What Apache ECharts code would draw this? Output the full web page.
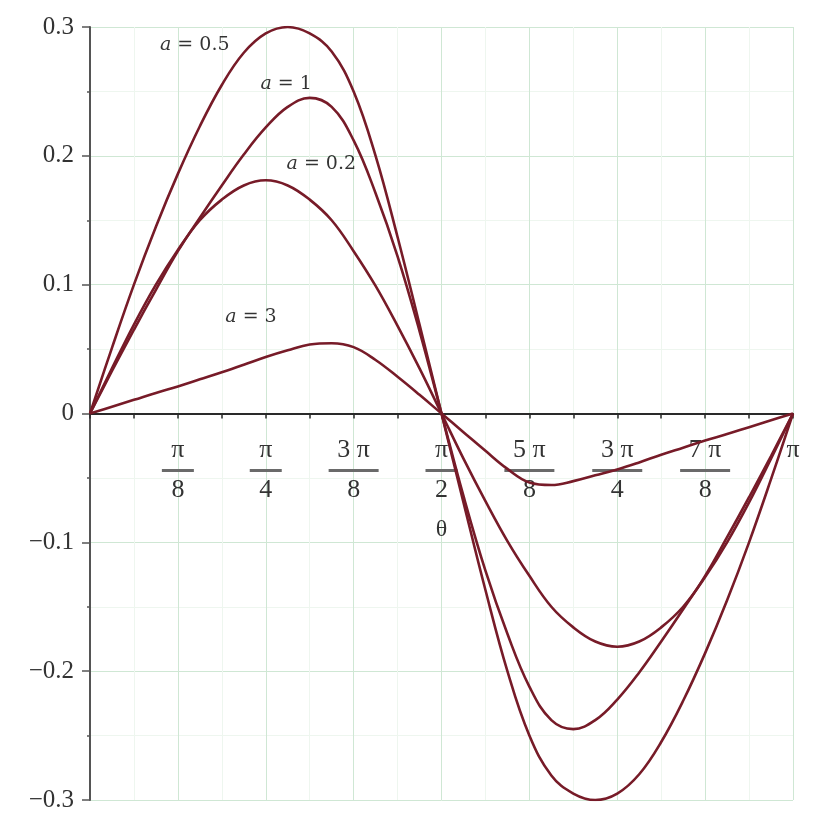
<!DOCTYPE html>
<html><head><meta charset="utf-8">
<script src="https://cdn.jsdelivr.net/npm/echarts@6/dist/echarts.min.js"></script>
<style>html,body{margin:0;padding:0;background:#fff}#c{width:828px;height:831px}</style>
</head><body><div id="c"></div>
<script>
// theta expressed in units of pi
const thetaOverPi = [0, 0.03125, 0.0625, 0.09375, 0.125, 0.15625, 0.1875, 0.21875, 0.25,
  0.28125, 0.3125, 0.34375, 0.375, 0.40625, 0.4375, 0.46875, 0.5,
  0.53125, 0.5625, 0.59375, 0.625, 0.65625, 0.6875, 0.71875, 0.75,
  0.78125, 0.8125, 0.84375, 0.875, 0.90625, 0.9375, 0.96875, 1];
const a05 = [0, 0.051, 0.1, 0.145, 0.186, 0.223, 0.255, 0.28, 0.295,
  0.3, 0.295, 0.281, 0.25, 0.2, 0.137, 0.069, 0,
  -0.069, -0.137, -0.2, -0.25, -0.281, -0.295, -0.3, -0.295,
  -0.28, -0.255, -0.223, -0.186, -0.145, -0.1, -0.051, 0];
const a1 = [0, 0.033, 0.065, 0.096, 0.126, 0.152, 0.177, 0.201, 0.222,
  0.238, 0.245, 0.238, 0.212, 0.171, 0.122, 0.064, 0,
  -0.064, -0.122, -0.171, -0.212, -0.238, -0.245, -0.238, -0.222,
  -0.201, -0.177, -0.152, -0.126, -0.096, -0.065, -0.033, 0];
const a02 = [0, 0.035, 0.069, 0.1, 0.127, 0.15, 0.166, 0.177, 0.181,
  0.177, 0.166, 0.15, 0.126, 0.099, 0.068, 0.035, 0,
  -0.035, -0.068, -0.099, -0.126, -0.15, -0.166, -0.177, -0.181,
  -0.177, -0.166, -0.15, -0.127, -0.1, -0.069, -0.035, 0];
const a3 = [0, 0.0053, 0.0106, 0.016, 0.021, 0.0265, 0.032, 0.0378, 0.0438,
  0.049, 0.0535, 0.0545, 0.0515, 0.0415, 0.0285, 0.0145, 0,
  -0.0145, -0.029, -0.043, -0.0535, -0.0555, -0.0525, -0.048, -0.0435,
  -0.038, -0.032, -0.0265, -0.021, -0.016, -0.0106, -0.0053, 0];
const curveValues = [a05, a1, a02, a3];
const curveNames = ['0.5', '1', '0.2', '3'];
// x tick labels (numerator, denominator) at multiples of pi/8
const xNumerators = ['', 'π', 'π', '3 π', 'π', '5 π', '3 π', '7 π', 'π'];
const xDenominators = ['', '8', '4', '8', '2', '8', '4', '8', ''];
// annotation anchors (theta/pi, value)
const annX = [0.149, 0.279, 0.329, 0.229];
const annY = [0.286, 0.256, 0.194, 0.075];

const W = 828, H = 831;
const gridTop = 27, gridBottom = 31;
const gridHeight = H - gridTop - gridBottom;

const chart = echarts.init(document.getElementById('c'), null, {renderer: 'canvas'});
const lineColor = '#771b28';
const serif = 'Liberation Serif';

const series = curveValues.map((vals, i) => ({
  type: 'line',
  name: 'a = ' + curveNames[i],
  data: thetaOverPi.map((t, j) => [t, vals[j]]),
  showSymbol: false,
  smooth: 0.4,
  lineStyle: {color: lineColor, width: 2.6},
  z: 3
}));
series.push({
  type: 'scatter',
  data: annX.map((x, i) => [x, annY[i], curveNames[i]]),
  symbolSize: 0,
  z: 5,
  label: {
    show: true,
    position: 'inside',
    color: '#000',
    textBorderWidth: 0,
    formatter: p => '{i|a}{r| = ' + p.value[2] + '}',
    rich: {
      i: {fontFamily: 'DejaVu Serif', fontStyle: 'italic', fontSize: 19, color: '#000', textBorderWidth: 0},
      r: {fontFamily: 'DejaVu Serif', fontSize: 19, color: '#000', textBorderWidth: 0}
    }
  }
});

chart.setOption({
  animation: false,
  backgroundColor: '#fff',
  grid: {left: 90, right: 35, top: gridTop, bottom: gridBottom, containLabel: false, outerBoundsMode: 'none'},
  xAxis: {
    type: 'value', min: 0, max: 1, interval: 0.125,
    offset: -gridHeight / 2,
    name: 'θ', nameLocation: 'middle', nameGap: 104,
    nameTextStyle: {fontFamily: serif, fontSize: 24, color: '#333'},
    axisLine: {onZero: false, lineStyle: {color: '#2a2a2a', width: 2}},
    axisTick: {show: true, length: 5, lineStyle: {color: '#2a2a2a', width: 1.5}},
    minorTick: {show: true, splitNumber: 2, length: 5, lineStyle: {color: '#2a2a2a', width: 1.5}},
    splitLine: {show: true, lineStyle: {color: '#cfe7d4', width: 1}},
    minorSplitLine: {show: true, lineStyle: {color: '#eef6ef', width: 1}},
    axisLabel: {
      margin: 23,
      formatter: v => {
        const k = Math.round(v * 8);
        if (k === 0) return '';
        if (!xDenominators[k]) return '{n|' + xNumerators[k] + '}';
        const bar = xNumerators[k].length > 1 ? 'b2' : 'b1';
        return '{n|' + xNumerators[k] + '}\n{' + bar + '| }\n{n|' + xDenominators[k] + '}';
      },
      rich: {
        n: {fontFamily: serif, fontSize: 26, lineHeight: 28, color: '#333', align: 'center'},
        b1: {width: 32, height: 3, lineHeight: 12, fontSize: 2, backgroundColor: '#6a6a6a', align: 'center'},
        b2: {width: 50, height: 3, lineHeight: 12, fontSize: 2, backgroundColor: '#6a6a6a', align: 'center'}
      }
    }
  },
  yAxis: {
    type: 'value', min: -0.3, max: 0.3, interval: 0.1,
    axisLine: {show: true, onZero: false, lineStyle: {color: '#555', width: 2}},
    axisTick: {show: true, length: 8, lineStyle: {color: '#555', width: 1.5}},
    minorTick: {show: true, splitNumber: 2, length: 3, lineStyle: {color: '#555', width: 1.5}},
    splitLine: {show: true, lineStyle: {color: '#cfe7d4', width: 1}},
    minorSplitLine: {show: true, lineStyle: {color: '#eef6ef', width: 1}},
    axisLabel: {
      margin: 16, fontFamily: serif, fontSize: 25, color: '#333',
      formatter: v => Math.abs(v) < 1e-9 ? '0' : (v < 0 ? '−' : '') + Math.abs(v).toFixed(1)
    }
  },
  series: series
});
</script></body></html>
